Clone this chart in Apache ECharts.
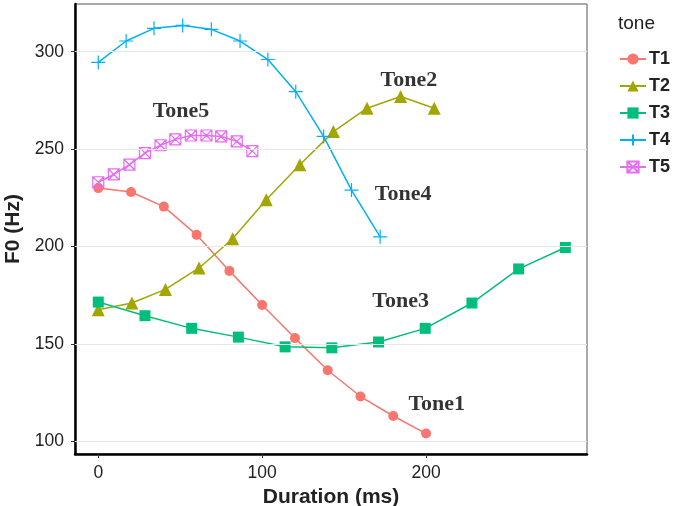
<!DOCTYPE html>
<html><head><meta charset="utf-8">
<script src="https://cdn.jsdelivr.net/npm/echarts@6/dist/echarts.min.js"></script>
<style>html,body{margin:0;padding:0;background:#fff}#c{width:673px;height:506px}</style>
</head><body><div id="c"></div>
<script>
const t1x=[0,20,40,60,80,100,120,140,160,180,200];
const t1y=[230,228,220.5,206,187.5,170,153,136.5,123,113,104];
const t2x=[0,20.5,41,61.5,82,102.5,123,143.5,164,184.5,205];
const t2y=[167.5,171,178,189,204,224,242,259,271,277,271];
const t3x=[0,28.5,57,85.5,114,142.5,171,199.5,228,256.5,285];
const t3y=[171.5,164.5,158,153.5,148.5,148,151,158,171,188.5,199.5];
const t4x=[0,17,34,51.5,69,86.5,103.5,120.5,137.5,154.5,172];
const t4y=[294.5,305.5,312,313.5,311.5,305.5,296,279.5,256.5,229,205];
const t5x=[0,9.5,19,28.5,38,47,56.5,66,75,84.5,94];
const t5y=[233,237,242,248,252,255,257,257,256.5,254,249];
const xTicks=[0,100,200];
const yTicks=[100,150,200,250,300];
const notes=[["Tone5",50.5,269.5],["Tone2",189.5,285.5],["Tone4",186,227],["Tone3",184.5,172],["Tone1",206.5,119]];

const colors=['#F8766D','#A3A500','#00BF7D','#00B0F6','#E76BF3'];
const pair=(xs,ys)=>xs.map((v,i)=>[v,ys[i]]);
const plus='path://M5,0L5,10M0,5L10,5';
const sqx='path://M0,0L10,0L10,10L0,10Z M0,0L10,10M10,0L0,10';
function line(name,data,i,symbol,size,hollow){
  return {name,type:'line',data,symbol,symbolSize:size,showSymbol:true,
    lineStyle:{color:colors[i],width:1.5},
    itemStyle:hollow?{color:'rgba(0,0,0,0)',borderColor:colors[i],borderWidth:1.2}:{color:colors[i],borderWidth:0},
    emphasis:{disabled:true},z:3};
}
const sans='Liberation Sans, Arial';
const chart=echarts.init(document.getElementById('c'));
chart.setOption({
  animation:false,
  title:{text:'tone',left:613,top:9,textStyle:{fontFamily:sans,fontSize:19,fontWeight:'normal',color:'#222'}},
  legend:{data:['T1','T2','T3','T4','T5'],orient:'vertical',left:614,top:45,itemWidth:26,itemHeight:14,itemGap:9,
    textStyle:{fontFamily:sans,fontSize:18,fontWeight:'bold',color:'#222',padding:[0,0,0,-2]}},
  grid:{left:75,top:4,right:86,bottom:52,show:true,borderColor:'#555',borderWidth:1,containLabel:false,outerBoundsMode:'none'},
  xAxis:{type:'value',min:-14.2,max:298.2,name:'Duration (ms)',nameLocation:'middle',nameGap:27,
    nameTextStyle:{fontFamily:sans,fontSize:21,fontWeight:'bold',color:'#222'},
    axisLine:{show:true,onZero:false,lineStyle:{color:'#000',width:2.5}},
    axisTick:{show:true,customValues:xTicks,length:4,lineStyle:{color:'#333'}},
    axisLabel:{customValues:xTicks,fontFamily:sans,fontSize:17.5,color:'#222',margin:10},
    splitLine:{show:false}},
  yAxis:{type:'value',min:93.5,max:324.5,name:'F0 (Hz)',nameLocation:'middle',nameGap:44,
    nameTextStyle:{fontFamily:sans,fontSize:21,fontWeight:'bold',color:'#222'},
    axisLine:{show:true,onZero:false,lineStyle:{color:'#000',width:2.5}},
    axisTick:{show:true,customValues:yTicks,length:4,lineStyle:{color:'#333'}},
    axisLabel:{customValues:yTicks,fontFamily:sans,fontSize:17.5,color:'#222',margin:11},
    splitLine:{show:false}},
  series:[
    {type:'line',data:[],silent:true,markLine:{silent:true,symbol:'none',label:{show:false},
      lineStyle:{color:'#e6e6e6',width:1.2,type:'solid'},data:yTicks.map(v=>({yAxis:v}))},z:1},
    line('T1',pair(t1x,t1y),0,'circle',10,false),
    line('T2',pair(t2x,t2y),1,'triangle',13,false),
    line('T3',pair(t3x,t3y),2,'rect',11,false),
    line('T4',pair(t4x,t4y),3,plus,14,true),
    line('T5',pair(t5x,t5y),4,sqx,11,true),
    {type:'scatter',data:notes.map(n=>({value:[n[1],n[2]],name:n[0]})),symbolSize:0,silent:true,z:5,
      label:{show:true,position:'inside',formatter:p=>p.name,fontFamily:'Liberation Serif, Times New Roman',fontWeight:'bold',fontSize:22,color:'#000',textBorderWidth:0}}
  ]
});
</script></body></html>
